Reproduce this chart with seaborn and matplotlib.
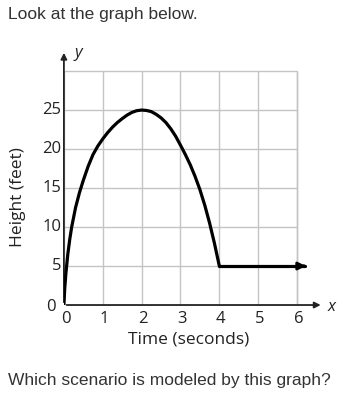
import seaborn as sns
import pandas as pd
from matplotlib import pyplot as plt

# Height of the object over time
time_s = [0, 0.02, 0.05, 0.1, 0.15, 0.2, 0.3, 0.4, 0.5, 0.625, 0.75, 0.875, 1.0,
          1.125, 1.25, 1.375, 1.5, 1.625, 1.75, 1.875, 2.0, 2.125, 2.25, 2.375,
          2.5, 2.625, 2.75, 2.875, 3.0, 3.125, 3.25, 3.375, 3.5, 3.625, 3.75,
          3.875, 4.0]
height_ft = [0, 2, 4, 6.5, 8.4, 10, 12.5, 14.4, 16, 17.8, 19.3, 20.4, 21.3,
             22.1, 22.8, 23.4, 23.9, 24.35, 24.7, 24.92, 25, 24.95, 24.8, 24.45,
             24.0, 23.4, 22.6, 21.65, 20.5, 19.3, 18, 16.5, 14.8, 12.8, 10.5,
             7.9, 5]
flat_time = [4.0, 6.2]
flat_height = [5, 5]

x_ticks = [0, 1, 2, 3, 4, 5, 6]
y_ticks = [0, 5, 10, 15, 20, 25]
grid_top = 30

sns.set_theme(style="white")
plt.rcParams['font.family'] = ['Open Sans', 'DejaVu Sans']

fig = plt.figure(figsize=(3.57, 4.04), dpi=100)
ax = fig.add_axes([0.179, 0.245, 0.751, 0.637])
ax.set_xlim(0, 6.9)
ax.set_ylim(0, 33)
for s in ax.spines.values():
    s.set_visible(False)
ax.set_xticks([])
ax.set_yticks([])

# grid limited to the 0..6 x 0..30 box
grid_c = '#c4c4c4'
ax.vlines(x_ticks + [6], 0, grid_top, color=grid_c, lw=1, zorder=1)
ax.hlines(y_ticks + [grid_top], 0, 6, color=grid_c, lw=1, zorder=1)

# axes with arrows
ax.annotate('', xy=(0, 32.7), xytext=(0, 0),
            arrowprops=dict(arrowstyle='-|>', color='#222222', lw=1.3, mutation_scale=9),
            annotation_clip=False)
ax.annotate('', xy=(6.68, 0), xytext=(0, 0),
            arrowprops=dict(arrowstyle='-|>', color='#222222', lw=1.3, mutation_scale=9),
            annotation_clip=False)

df = pd.DataFrame({'t': time_s, 'h': height_ft})
sns.lineplot(data=df, x='t', y='h', color='black', lw=2.3, ax=ax, sort=False, zorder=3)
ax.plot(flat_time, flat_height, color='black', lw=2.3, zorder=3)
ax.annotate('', xy=(flat_time[1] + 0.1, 5), xytext=(flat_time[1] - 0.1, 5),
            arrowprops=dict(arrowstyle='-|>', color='black', lw=2, mutation_scale=11))
ax.set_xlabel('')
ax.set_ylabel('')

tick_c = '#222222'
fs = 12
for v in x_ticks:
    ax.text(v + 0.04, -1.8, str(v), ha='center', va='center', fontsize=fs, color=tick_c)
for v in y_ticks:
    if v == 0:
        ax.text(-0.22, -0.3, '0', ha='right', va='center', fontsize=fs, color=tick_c)
    else:
        ax.text(-0.06, v, str(v), ha='right', va='center', fontsize=fs, color=tick_c)

ax.text(0.38, 32.3, 'y', ha='center', va='center', fontsize=12, style='italic', color=tick_c)
ax.text(6.9, -0.2, 'x', ha='center', va='center', fontsize=12, style='italic', color=tick_c)

fig.text(189 / 357, 1 - 340 / 404, 'Time (seconds)', ha='center', va='center',
         fontsize=12.5, color=tick_c)
fig.text(18 / 357, 1 - 197 / 404, 'Height (feet)', ha='center', va='center',
         rotation=90, fontsize=12.5, color=tick_c)

fig.text(8 / 357, 1 - 15 / 404, 'Look at the graph below.', ha='left', va='center',
         fontsize=12.5, color='#333333', family=['Liberation Sans', 'DejaVu Sans'])
fig.text(8 / 357, 1 - 381 / 404, 'Which scenario is modeled by this graph?', ha='left',
         va='center', fontsize=12.5, color='#333333', family=['Liberation Sans', 'DejaVu Sans'])

fig.savefig('out.png', dpi=100, facecolor='white')
